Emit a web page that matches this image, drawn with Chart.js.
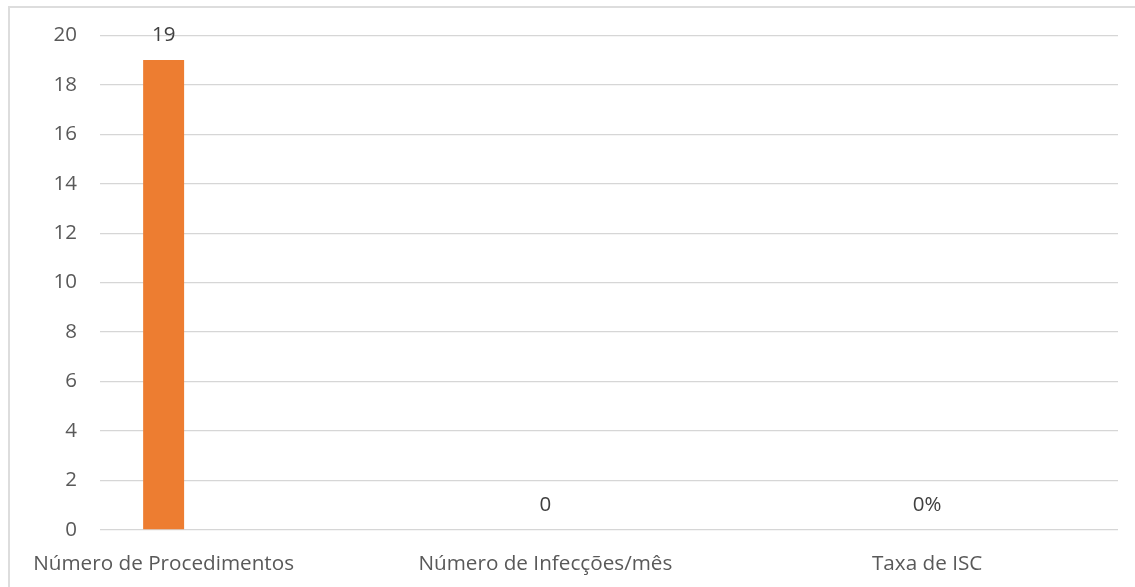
<!DOCTYPE html>
<html>
<head>
<meta charset="utf-8">
<script src="https://cdn.jsdelivr.net/npm/chart.js@4.4.0/dist/chart.umd.min.js"></script>
<style>
  html, body { margin: 0; padding: 0; background: #fff; overflow: hidden; }
  #wrap { position: relative; width: 1135px; height: 587px; }
  #frame {
    position: absolute; left: 8px; top: 6px; width: 1200px; height: 700px;
    border: 2px solid #DDDDDD; box-sizing: border-box;
  }
  canvas { position: absolute; left: 0; top: 0; }
</style>
</head>
<body>
<div id="wrap">
  <div id="frame"></div>
  <canvas id="chart" width="1135" height="587"></canvas>
</div>
<script>
// categories (blank slots keep the original spacing)
const categories = ['Número de Procedimentos', '', '', 'Número de Infecções/mês', '', '', 'Taxa de ISC', ''];
const values = [19, null, null, 0, null, null, 0, null];
const valueLabels = ['19', '', '', '0', '', '', '0%', ''];
const yTicks = [0, 2, 4, 6, 8, 10, 12, 14, 16, 18, 20];

const FONT = '"Open Sans", "Noto Sans", sans-serif';

// draws the value labels above each bar
const valueLabelPlugin = {
    id: 'valueLabels',
    afterDatasetsDraw(chart) {
        const ctx = chart.ctx;
        const meta = chart.getDatasetMeta(0);
        ctx.save();
        ctx.font = '20.5px ' + FONT;
        ctx.fillStyle = '#404040';
        ctx.textAlign = 'center';
        ctx.textBaseline = 'middle';
        meta.data.forEach((bar, i) => {
            if (!valueLabels[i]) return;
            ctx.fillText(valueLabels[i], bar.x, bar.y - 24.5);
        });
        ctx.restore();
    }
};

new Chart(document.getElementById('chart').getContext('2d'), {
    type: 'bar',
    data: {
        labels: categories,
        datasets: [{
            data: values,
            backgroundColor: '#ED7D31',
            borderWidth: 0,
            categoryPercentage: 1,
            barPercentage: 0.322
        }]
    },
    options: {
        responsive: false,
        animation: false,
        layout: { padding: { top: 35, right: 17, left: 0, bottom: 0 } },
        plugins: {
            legend: { display: false },
            tooltip: { enabled: false }
        },
        scales: {
            x: {
                grid: { display: false },
                border: { display: false },
                ticks: {
                    autoSkip: false,
                    maxRotation: 0,
                    minRotation: 0,
                    padding: 14,
                    color: '#595959',
                    font: { family: FONT, size: 20.7 }
                },
                afterFit(scale) { scale.height = 57; }
            },
            y: {
                min: 0,
                max: 20,
                afterBuildTicks(scale) { scale.ticks = yTicks.map(v => ({ value: v })); },
                grid: { color: '#D6D6D6', lineWidth: 1.3, drawTicks: false },
                border: { display: false },
                ticks: {
                    padding: 23,
                    color: '#595959',
                    font: { family: FONT, size: 20.5 }
                },
                afterFit(scale) { scale.width = 100; }
            }
        }
    },
    plugins: [valueLabelPlugin]
});
</script>
</body>
</html>
